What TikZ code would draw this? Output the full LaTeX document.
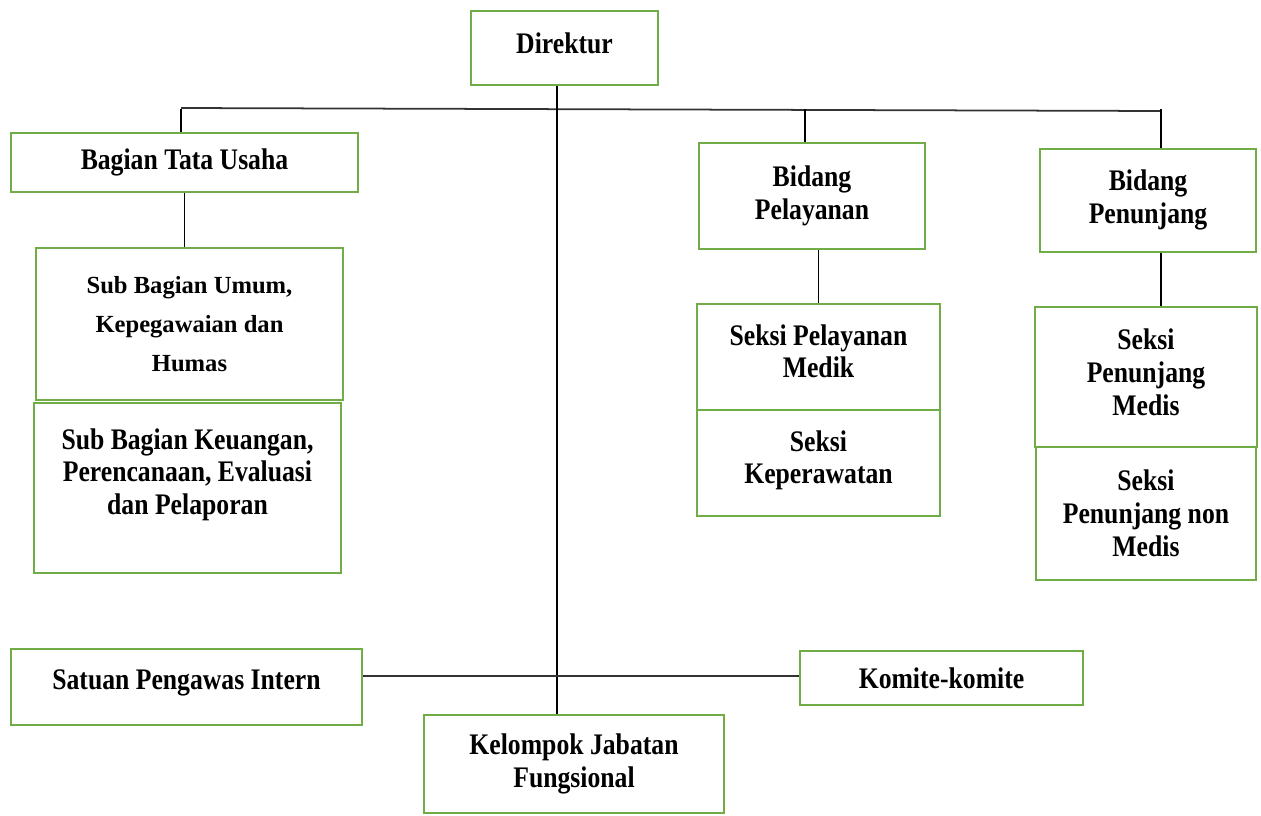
\documentclass[tikz,border=0pt]{standalone}
\usepackage{fontspec}
\setmainfont{Liberation Serif}[FakeStretch=0.86]
\newfontfamily\widefont{Liberation Serif}
\usepackage{tikz}

\definecolor{boxgreen}{RGB}{112,173,71}

\begin{document}
\begin{tikzpicture}[x=0.02cm, y=-0.02cm,
		box/.style={draw=boxgreen, line width=1.5pt, fill=white, align=center,
			font=\fontsize{17}{18.7}\selectfont\bfseries, inner sep=0pt},
		link/.style={draw=black, line width=0.7pt}]
			\useasboundingbox (0,0) rectangle (1261,815);
			% top level
			\node[box, minimum width=3.74cm, minimum height=1.48cm] (dir) at (564.5,48) {Direktur\\[-13pt]};
			\coordinate (spine) at (557,0);
			\coordinate (busL) at (181,108);
			\coordinate (busR) at (1161,111);
			\coordinate (mid) at (557,676);
			% bagian dan bidang
			\node[box, minimum width=6.94cm, minimum height=1.18cm] (btu) at (184.5,162.5) {Bagian Tata Usaha};
			\node[box, minimum width=4.52cm, minimum height=2.12cm] (bp) at (812,196) {Bidang\\Pelayanan\\[-14.7pt]};
			\node[box, minimum width=4.32cm, minimum height=2.06cm] (bpn) at (1148,200.5) {Bidang\\Penunjang\\[-14.7pt]};
			% sub bagian
			\node[box, minimum width=6.14cm, minimum height=3.04cm,
				font=\fontsize{14}{22}\selectfont\bfseries\widefont] (sbu) at (189.5,324) {Sub Bagian Umum,\\Kepegawaian dan\\Humas};
			\node[box, minimum width=6.14cm, minimum height=3.40cm] (sbk) at (187.5,488) {Sub Bagian Keuangan,\\Perencanaan, Evaluasi\\dan Pelaporan\\~};
			% seksi
			\node[box, minimum width=4.86cm, minimum height=2.12cm] (spm) at (818.5,357) {Seksi Pelayanan\\Medik\\[-12pt]};
			\node[box, minimum width=4.86cm, minimum height=2.12cm] (sk) at (818.5,463) {Seksi\\Keperawatan\\[-12pt]};
			\node[box, minimum width=4.44cm, minimum height=2.80cm] (spnm) at (1146,377) {Seksi\\Penunjang\\Medis\\[-13pt]};
			\node[box, minimum width=4.40cm, minimum height=2.66cm] (spnn) at (1146,513.5) {Seksi\\Penunjang non\\Medis};
			% bawah
			\node[box, minimum width=7.02cm, minimum height=1.52cm] (spi) at (186.5,687) {Satuan Pengawas Intern\\[-10pt]};
			\node[box, minimum width=5.66cm, minimum height=1.08cm] (kk) at (941.5,678) {Komite-komite};
			\node[box, minimum width=6.00cm, minimum height=1.96cm] (kjf) at (574,764) {Kelompok Jabatan\\Fungsional};
			% garis
			\draw[link, line width=1pt, black!80] (busL) -- (busR);
			\draw[link] (dir.south -| spine) -- (kjf.north -| spine);
			\foreach \n/\x in {btu/181, bp/805, bpn/1161}
				\draw[link] (\x,109) -- (\n.north -| \x,0);
			\draw[link] (btu.south) -- (sbu.north -| btu.south);
			\draw[link] (spm.north) -- (bp.south -| spm.north);
			\draw[link] (bpn.south -| busR) -- (spnm.north -| busR);
			\draw[link, line width=1pt, black!80] (spi.east |- mid) -- (kk.west |- mid);
		\end{tikzpicture}
\end{document}
